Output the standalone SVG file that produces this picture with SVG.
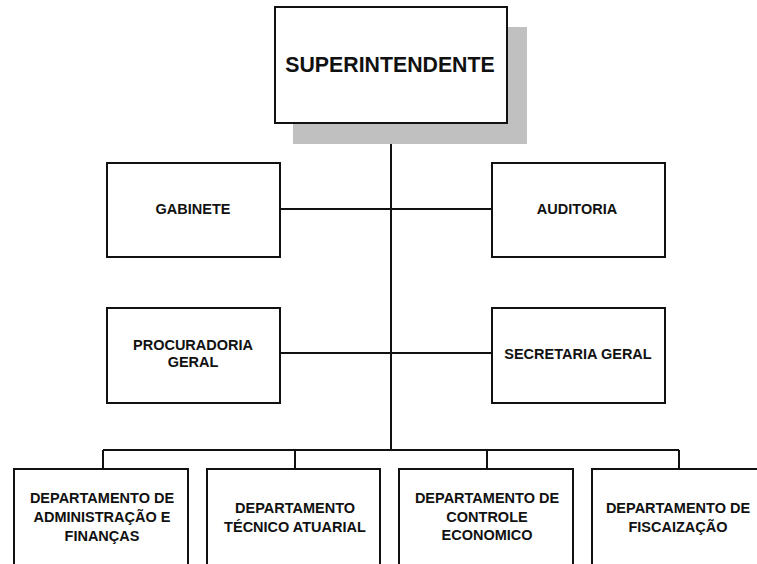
<svg xmlns="http://www.w3.org/2000/svg" width="757" height="564" viewBox="0 0 757 564">
<style>
.box{fill:#fff;stroke:#111;stroke-width:2}
.ln{stroke:#111;stroke-width:2;fill:none}
.t{font-family:"Liberation Sans",Arial,sans-serif;font-weight:bold;font-size:14.5px;fill:#111;text-anchor:middle;dominant-baseline:central}
.big{font-size:21.3px}
</style>
<rect width="757" height="564" fill="#fff"/>
<g id="connectors">
<path class="ln" d="M391 144V450M280 209H492M280 353H492M103 450H679M103 450V469M295 450V469M487 450V469M679 450V469"/>
</g>
<g id="superintendente">
<rect x="293" y="27" width="234" height="117" fill="#c0c0c0"/>
<rect class="box" x="275" y="7" width="232" height="116"/>
<text class="t big" x="390" y="65">SUPERINTENDENTE</text>
</g>
<g id="gabinete">
<rect class="box" x="107" y="163" width="173" height="94"/>
<text class="t" x="193" y="209">GABINETE</text>
</g>
<g id="auditoria">
<rect class="box" x="492" y="163" width="173" height="94"/>
<text class="t" x="577" y="209">AUDITORIA</text>
</g>
<g id="procuradoria">
<rect class="box" x="107" y="308" width="173" height="95"/>
<text class="t" x="193" y="345">PROCURADORIA</text>
<text class="t" x="193" y="362">GERAL</text>
</g>
<g id="secretaria">
<rect class="box" x="492" y="308" width="173" height="95"/>
<text class="t" x="578" y="354">SECRETARIA GERAL</text>
</g>
<g id="dep-administracao">
<rect class="box" x="14" y="469" width="174" height="110"/>
<text class="t" x="102" y="498">DEPARTAMENTO DE</text>
<text class="t" x="102" y="517">ADMINISTRAÇÃO E</text>
<text class="t" x="102" y="536">FINANÇAS</text>
</g>
<g id="dep-tecnico">
<rect class="box" x="207" y="469" width="173" height="110"/>
<text class="t" x="295" y="508">DEPARTAMENTO</text>
<text class="t" x="295" y="527">TÉCNICO ATUARIAL</text>
</g>
<g id="dep-controle">
<rect class="box" x="399" y="469" width="174" height="110"/>
<text class="t" x="487" y="498">DEPARTAMENTO DE</text>
<text class="t" x="487" y="517">CONTROLE</text>
<text class="t" x="487" y="535">ECONOMICO</text>
</g>
<g id="dep-fiscalizacao">
<rect class="box" x="592" y="469" width="174" height="110"/>
<text class="t" x="678" y="508">DEPARTAMENTO DE</text>
<text class="t" x="678" y="527">FISCAIZAÇÃO</text>
</g>
</svg>
